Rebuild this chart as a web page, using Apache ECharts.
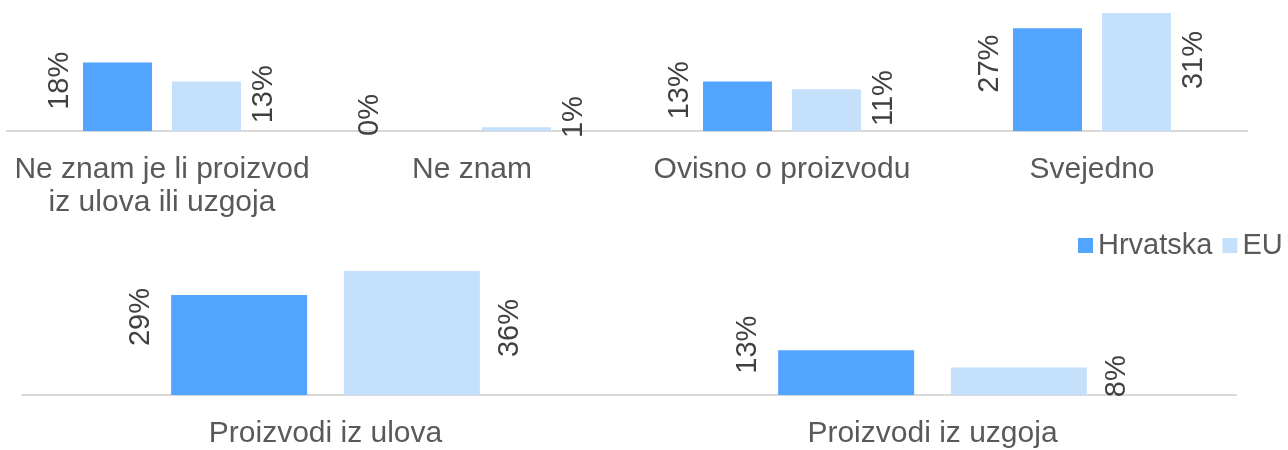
<!DOCTYPE html>
<html>
<head>
<meta charset="utf-8">
<title>Proizvodi iz ulova ili uzgoja</title>
<script src="https://cdn.jsdelivr.net/npm/echarts@6/dist/echarts.min.js"></script>
<style>
  html, body { margin: 0; padding: 0; background: #fff; }
  #chart { width: 1288px; height: 450px; }
</style>
</head>
<body>
<div id="chart"></div>
<script>
// gornji graf - 4 kategorije
var topCategories = ['Ne znam je li proizvod\niz ulova ili uzgoja', 'Ne znam', 'Ovisno o proizvodu', 'Svejedno'];
var topHrvatska = [18, 0, 13, 27];
var topEU = [13, 1, 11, 31];

// donji graf - 2 kategorije
var bottomCategories = ['Proizvodi iz ulova', 'Proizvodi iz uzgoja'];
var bottomHrvatska = [29, 13];
var bottomEU = [36, 8];

var seriesNames = ['Hrvatska', 'EU'];
var colors = ['#53a4fe', '#c5e0fb'];

var fontFamily = '"Liberation Sans", Arial, sans-serif';

function pct(p) { return p.value + '%'; }

// oznake okrenute za 90°, lijevo/desno od stupca
function makeLabel(side, dist, lift) {
  return {
    show: true,
    position: side,
    distance: dist,
    rotate: 90,
    align: 'center',
    verticalAlign: side === 'left' ? 'bottom' : 'top',
    offset: [lift, 0],
    formatter: pct,
    color: '#404040',
    fontSize: 29,
    fontFamily: fontFamily
  };
}

function makeAxis(idx, cats) {
  return {
    type: 'category',
    gridIndex: idx,
    data: cats,
    axisTick: { show: false },
    axisLine: { lineStyle: { color: '#d9d9d9', width: 2 } },
    axisLabel: {
      color: '#595959',
      fontSize: 30,
      lineHeight: 33,
      margin: 22,
      interval: 0,
      fontFamily: fontFamily
    }
  };
}

var chart = echarts.init(document.getElementById('chart'));

chart.setOption({
  animation: false,
  color: colors,
  legend: {
    data: seriesNames,
    left: 1073,
    top: 226,
    itemWidth: 15,
    itemHeight: 15,
    itemGap: 10,
    icon: 'rect',
    textStyle: { color: '#595959', fontSize: 29, fontFamily: fontFamily }
  },
  grid: [
    { left: 7, top: 13, width: 1240, height: 118 },
    { left: 22, top: 271, width: 1214, height: 128 }
  ],
  xAxis: [makeAxis(0, topCategories), makeAxis(1, bottomCategories)],
  yAxis: [
    { type: 'value', gridIndex: 0, min: 0, max: 31, show: false, splitLine: { show: false } },
    { type: 'value', gridIndex: 1, min: 0, max: 36, show: false, splitLine: { show: false } }
  ],
  series: [
    {
      name: seriesNames[0], type: 'bar', xAxisIndex: 0, yAxisIndex: 0,
      data: topHrvatska, barWidth: 69, barGap: '29%',
      label: makeLabel('left', 8, 16)
    },
    {
      name: seriesNames[1], type: 'bar', xAxisIndex: 0, yAxisIndex: 0,
      data: topEU, barWidth: 69, barGap: '29%',
      label: makeLabel('right', 8, 12)
    },
    {
      name: seriesNames[0], type: 'bar', xAxisIndex: 1, yAxisIndex: 1,
      data: bottomHrvatska, barWidth: 136, barGap: '27%',
      label: makeLabel('left', 16, 28)
    },
    {
      name: seriesNames[1], type: 'bar', xAxisIndex: 1, yAxisIndex: 1,
      data: bottomEU, barWidth: 136, barGap: '27%',
      label: makeLabel('right', 16, 5)
    }
  ]
});
</script>
</body>
</html>
